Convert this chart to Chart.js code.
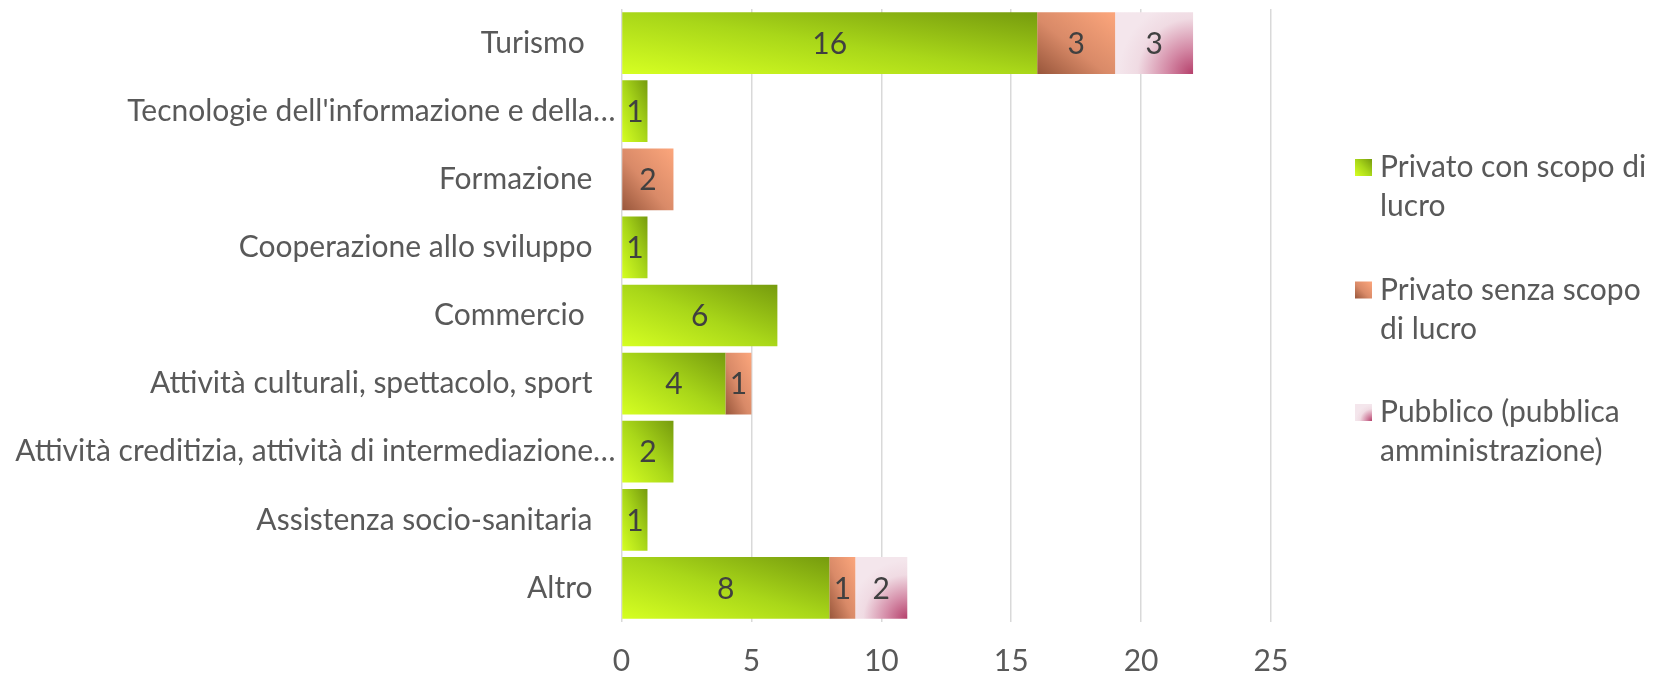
<!DOCTYPE html>
<html><head><meta charset="utf-8">
<script src="https://cdn.jsdelivr.net/npm/chart.js@4.4.0/dist/chart.umd.min.js"></script>
<style>html,body{margin:0;padding:0;background:#fff;}#wrap{width:1659px;height:681px;position:relative;}</style>
</head><body><div id="wrap"><canvas id="c" width="1659" height="681"></canvas></div>
<script>
const categories = [
  "Turismo    ",
  "Tecnologie dell'informazione e della\u2026",
  "Formazione   ",
  "Cooperazione allo sviluppo   ",
  "Commercio    ",
  "Attivit\u00e0 culturali, spettacolo, sport   ",
  "Attivit\u00e0 creditizia, attivit\u00e0 di intermediazione\u2026",
  "Assistenza socio-sanitaria   ",
  "Altro   "
];
const seriesLabels = ["Privato con scopo di lucro", "Privato senza scopo di lucro", "Pubblico (pubblica amministrazione)"];
const privatoConLucro   = [16, 1, 0, 1, 6, 4, 2, 1, 8];
const privatoSenzaLucro = [3, 0, 2, 0, 0, 1, 0, 0, 1];
const pubblico          = [3, 0, 0, 0, 0, 0, 0, 0, 2];
const xTicks = [0, 5, 10, 15, 20, 25];

const FONT = 'Lato';
const FSIZE = 30;
const CAT_PCT = 0.906;

function barRect(c) {
  const chart = c.chart;
  const xs = chart.scales.x, ys = chart.scales.y;
  if (!xs || !ys || !chart.chartArea) return null;
  const i = c.dataIndex, d = c.datasetIndex;
  let start = 0;
  for (let k = 0; k < d; k++) start += chart.data.datasets[k].data[i];
  const v = chart.data.datasets[d].data[i];
  const x0 = xs.getPixelForValue(start), x1 = xs.getPixelForValue(start + v);
  const band = Math.abs(ys.getPixelForValue(1) - ys.getPixelForValue(0));
  const h = band * CAT_PCT;
  const yc = ys.getPixelForValue(i);
  return {x0, x1, y0: yc - h / 2, y1: yc + h / 2};
}
// gradient stretched with the shape: isolines parallel to the top-left/bottom-right diagonal
function diagGrad(ctx, r) {
  const w = r.x1 - r.x0, h = r.y1 - r.y0;
  const L2 = w * w + h * h;
  const t = 2 * w * h / L2;
  return ctx.createLinearGradient(r.x0, r.y1, r.x0 + t * h, r.y1 - t * w);
}
function greenGrad(ctx, r) {
  const g = diagGrad(ctx, r);
  g.addColorStop(0, '#d6ff22'); g.addColorStop(0.5, '#a9d719'); g.addColorStop(1, '#769b0e');
  return g;
}
function orangeGrad(ctx, r) {
  const g = diagGrad(ctx, r);
  g.addColorStop(0, '#98563b'); g.addColorStop(0.45, '#d98a68'); g.addColorStop(1, '#fca67c');
  return g;
}
function pinkGrad(ctx, r) {
  const w = r.x1 - r.x0, h = r.y1 - r.y0;
  const rad = Math.max(w, h) * 0.95;
  const g = ctx.createRadialGradient(r.x1, r.y1, 0, r.x1, r.y1, rad);
  g.addColorStop(0, '#b5406b'); g.addColorStop(0.35, '#d48aa6'); g.addColorStop(0.75, '#f0dbe3'); g.addColorStop(1, '#f4e6ec');
  return g;
}
const gradFns = [greenGrad, orangeGrad, pinkGrad];
const flatCols = ['#abd919', '#d98a68', '#f0dbe3'];
function bg(idx) {
  return function (c) {
    const r = barRect(c);
    if (!r || r.x1 - r.x0 <= 0) return flatCols[idx];
    return gradFns[idx](c.chart.ctx, r);
  };
}

const valueLabels = {
  id: 'valueLabels',
  afterDatasetsDraw(chart) {
    const ctx = chart.ctx;
    ctx.save();
    ctx.font = FSIZE + 'px ' + FONT;
    ctx.fillStyle = '#404040';
    ctx.textAlign = 'center';
    ctx.textBaseline = 'middle';
    chart.data.datasets.forEach((ds, d) => {
      const meta = chart.getDatasetMeta(d);
      meta.data.forEach((el, i) => {
        const v = ds.data[i];
        if (!v) return;
        const p = el.getCenterPoint();
        ctx.fillText(String(v), p.x, p.y + 1);
      });
    });
    ctx.restore();
  }
};

const sideLegend = {
  id: 'sideLegend',
  afterDraw(chart) {
    const ctx = chart.ctx;
    ctx.save();
    ctx.font = FSIZE + 'px ' + FONT;
    ctx.textAlign = 'left';
    ctx.textBaseline = 'alphabetic';
    const tx = 1380, sx = 1355, sw = 17, maxW = 275;
    chart.data.datasets.forEach((ds, d) => {
      const base = 177 + d * 122.5;
      const words = ds.label.split(' ');
      const lines = [];
      let cur = '';
      words.forEach(w => {
        const t = cur ? cur + ' ' + w : w;
        if (ctx.measureText(t).width > maxW && cur) { lines.push(cur); cur = w; } else cur = t;
      });
      if (cur) lines.push(cur);
      const r = {x0: sx, x1: sx + sw, y0: base - 18, y1: base - 18 + sw};
      ctx.fillStyle = gradFns[d](ctx, r);
      ctx.fillRect(r.x0, r.y0, sw, sw);
      ctx.fillStyle = '#595959';
      lines.forEach((ln, k) => ctx.fillText(ln, tx, base + k * 39));
    });
    ctx.restore();
  }
};

new Chart(document.getElementById('c'), {
  type: 'bar',
  data: {
    labels: categories,
    datasets: [
      {label: seriesLabels[0], data: privatoConLucro, backgroundColor: bg(0)},
      {label: seriesLabels[1], data: privatoSenzaLucro, backgroundColor: bg(1)},
      {label: seriesLabels[2], data: pubblico, backgroundColor: bg(2)}
    ]
  },
  options: {
    indexAxis: 'y',
    responsive: false,
    animation: false,
    devicePixelRatio: 1,
    layout: {padding: {top: 9, right: 388, bottom: 0, left: 0}},
    datasets: {bar: {categoryPercentage: CAT_PCT, barPercentage: 1, borderWidth: 0}},
    plugins: {legend: {display: false}, tooltip: {enabled: false}},
    scales: {
      x: {
        stacked: true, min: 0, max: 25,
        afterBuildTicks(s) { s.ticks = xTicks.map(v => ({value: v})); },
        afterFit(s) { s.height = 59; },
        grid: {color: '#d9d9d9', lineWidth: 1.5, drawTicks: false},
        border: {display: false},
        ticks: {font: {family: FONT, size: FSIZE}, color: '#595959', padding: 21}
      },
      y: {
        stacked: true,
        afterFit(s) { s.width = 621.5; },
        grid: {display: false, drawTicks: false},
        border: {display: false},
        ticks: {font: {family: FONT, size: FSIZE, lineHeight: 0.1}, color: '#595959', padding: 6, autoSkip: false}
      }
    }
  },
  plugins: [valueLabels, sideLegend]
});
</script>
</body></html>
